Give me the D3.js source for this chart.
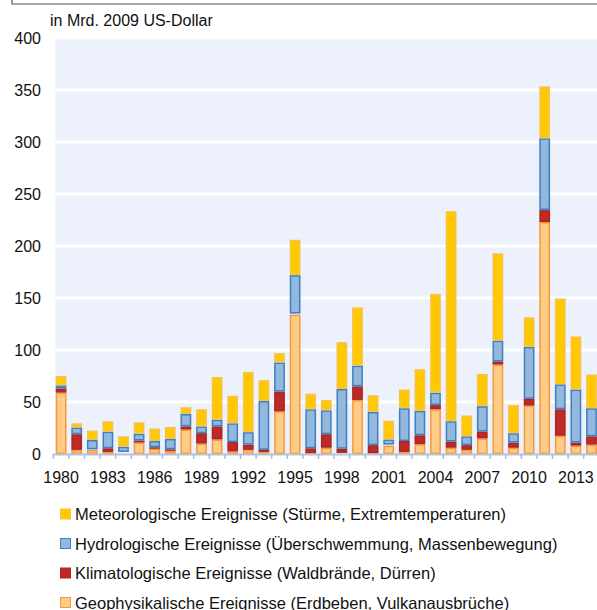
<!DOCTYPE html>
<html><head><meta charset="utf-8">
<script src="https://cdn.jsdelivr.net/npm/d3@7"></script>
<style>body{margin:0;background:#fff;}svg{display:block;font-family:"Liberation Sans",Arial,sans-serif;}</style>
</head><body><svg id="c" width="597" height="610"></svg>
<script>
const years = d3.range(1980, 2015);
const geo   = [59,4,4,2,1,11,5,3,23.5,10,14,2.5,4,2,41,134,0.5,6,1,52,0.5,8,2,9.5,43,6,4,15,86,6,46.5,223,17.5,8,9];
const clim  = [4,15,0.5,3.5,1,2,1.5,1.5,3,10,12.5,9,5,2,19,1,5,13,4,13,8,1,10.5,8.5,4,6,4.5,6.5,3,5,6.5,11.5,25.5,3,8];
const hydro = [3,6.5,9,16,5,6.5,6,10,12,6.5,6.5,18,12,47,28,37,37.5,23,57.5,20,32,5,31.5,23.5,12,19.5,8.5,24.5,20,9,50,69,24,51,27];
const meteo = [9,4,9,10,10,11,12,11.5,6.5,16.5,41,26.5,58,20,9,34,15,10,45,56,16,18,18,40,95,202,20,31,84,27,28.5,50,82.5,51,32.5];
const yTicks = [0,50,100,150,200,250,300,350,400];
const xLabels = [1980,1983,1986,1989,1992,1995,1998,2001,2004,2007,2010,2013];
const seriesNames = ["Geophysikalische Ereignisse (Erdbeben, Vulkanausbrüche)","Klimatologische Ereignisse (Waldbrände, Dürren)","Hydrologische Ereignisse (Überschwemmung, Massenbewegung)","Meteorologische Ereignisse (Stürme, Extremtemperaturen)"];
const keys = ["geo","clim","hydro","meteo"];
const fills = {geo:"#ffcc88",clim:"#be2a26",hydro:"#93b7dd",meteo:"#ffc800"};
const strokes = {geo:"#f59a3c",clim:"#b02420",hydro:"#3c7fc2",meteo:"#f7c24a"};

const svg = d3.select("#c");
const L=53.3, R=599.3, T=38, B=454;
const x = d3.scaleBand().domain(years).range([L,R]).paddingInner(0.31).paddingOuter(0.155);
const y = d3.scaleLinear().domain([0,400]).range([B,T]);

// top frame
svg.append("path").attr("d","M12,0V4H597").attr("fill","none").attr("stroke","#555").attr("stroke-width",1.2);

svg.append("rect").attr("x",L+2).attr("y",T).attr("width",R-L).attr("height",B-T).attr("fill","#edf1fb");
svg.append("g").selectAll("line").data(yTicks.filter(d=>d>0)).join("line")
  .attr("x1",L+2).attr("x2",R).attr("y1",d=>y(d)).attr("y2",d=>y(d))
  .attr("stroke","#fff").attr("stroke-width",3);

svg.append("g").selectAll("text").data(yTicks).join("text")
  .attr("x",41).attr("y",d=>y(d)+6).attr("text-anchor","end")
  .attr("font-size",16).attr("fill","#111").text(d=>d);

svg.append("text").attr("x",50).attr("y",26).attr("font-size",16).attr("fill","#111").text("in Mrd. 2009 US-Dollar");

const data = years.map((yr,i)=>({year:yr,geo:geo[i],clim:clim[i],hydro:hydro[i],meteo:meteo[i]}));
const stack = d3.stack().keys(keys)(data);
svg.append("g").selectAll("g").data(stack).join("g")
  .attr("fill",s=>fills[s.key]).attr("stroke",s=>strokes[s.key]).attr("stroke-width",1.5)
  .selectAll("rect").data(s=>s).join("rect")
  .attr("x",d=>x(d.data.year)+0.75).attr("width",x.bandwidth()-1.5)
  .attr("y",d=>y(d[1])+0.75).attr("height",d=>Math.max(0,y(d[0])-y(d[1])-1.5));

// x axis
svg.append("line").attr("x1",L).attr("x2",R).attr("y1",B+0.5).attr("y2",B+0.5).attr("stroke","#b9c2dc").attr("stroke-width",2);
const bounds = years.map(yr=>x(yr)-x.step()*x.paddingInner()/2);
svg.append("g").selectAll("line").data(bounds).join("line")
  .attr("x1",d=>d).attr("x2",d=>d).attr("y1",B).attr("y2",B+5).attr("stroke","#a8bde6").attr("stroke-width",1.5);
svg.append("g").selectAll("text").data(xLabels).join("text")
  .attr("x",d=>x(d)+x.bandwidth()/2).attr("y",483).attr("text-anchor","middle")
  .attr("font-size",16).attr("fill","#111").text(d=>d);

// legend (top to bottom: meteo, hydro, clim, geo)
const legOrder=[3,2,1,0];
const lg = svg.append("g").selectAll("g").data(legOrder).join("g")
  .attr("transform",(d,i)=>`translate(60,${514+i*29.5})`);
lg.append("rect").attr("x",0.5).attr("y",-5).attr("width",10).attr("height",10)
  .attr("fill",d=>fills[keys[d]]).attr("stroke",d=>strokes[keys[d]]).attr("stroke-width",1);
lg.append("text").attr("x",15).attr("y",6).attr("font-size",16.5).attr("fill","#111").text(d=>seriesNames[d]);
</script></body></html>
